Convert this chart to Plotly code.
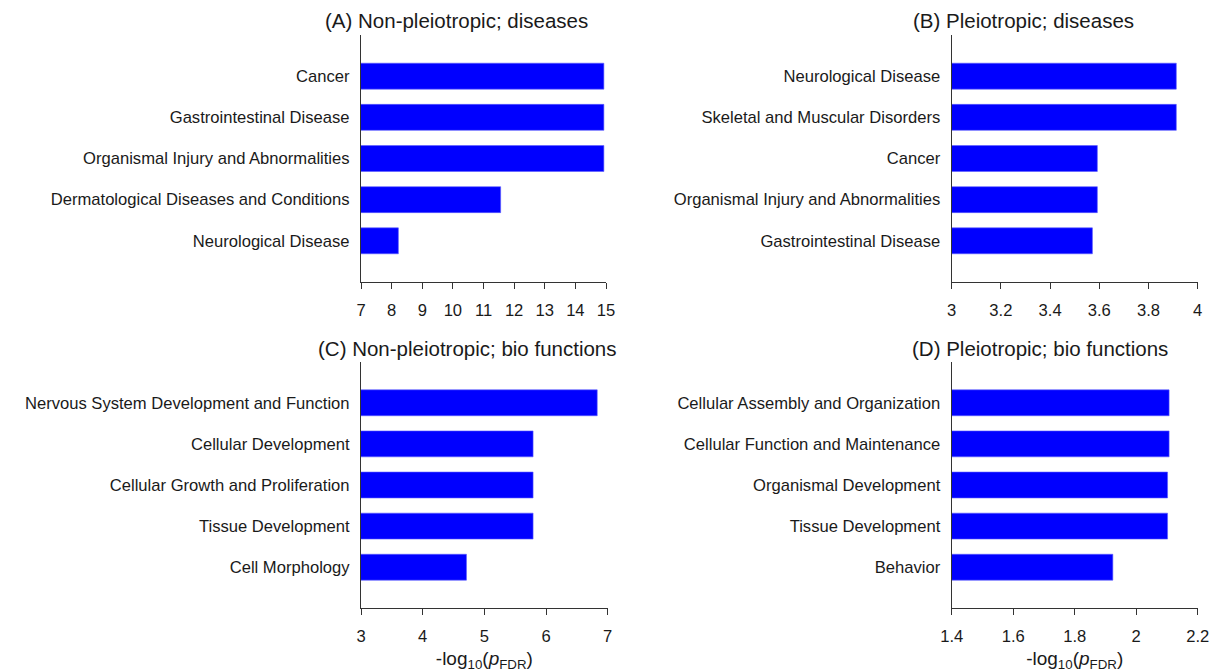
import plotly.graph_objects as go

# Panel data (top-to-bottom order)
cats_a = ["Cancer", "Gastrointestinal Disease", "Organismal Injury and Abnormalities",
          "Dermatological Diseases and Conditions", "Neurological Disease"]
vals_a = [14.93, 14.93, 14.93, 11.56, 8.22]

cats_b = ["Neurological Disease", "Skeletal and Muscular Disorders", "Cancer",
          "Organismal Injury and Abnormalities", "Gastrointestinal Disease"]
vals_b = [3.913, 3.913, 3.592, 3.592, 3.572]

cats_c = ["Nervous System Development and Function", "Cellular Development",
          "Cellular Growth and Proliferation", "Tissue Development", "Cell Morphology"]
vals_c = [6.83, 5.79, 5.79, 5.79, 4.71]

cats_d = ["Cellular Assembly and Organization", "Cellular Function and Maintenance",
          "Organismal Development", "Tissue Development", "Behavior"]
vals_d = [2.107, 2.107, 2.102, 2.102, 1.924]

titles = ["(A) Non-pleiotropic; diseases", "(B) Pleiotropic; diseases",
          "(C) Non-pleiotropic; bio functions", "(D) Pleiotropic; bio functions"]
xranges = [[7, 15], [3, 4], [3, 7], [1.4, 2.2]]
xdticks = [1, 0.2, 1, 0.2]

W, H = 1219, 672
def dx(a, b):
    return [a / W, b / W]
def dy(top, bot):
    return [1 - bot / H, 1 - top / H]

x_domains = [dx(361, 606), dx(951.7, 1197.7), dx(361, 607.7), dx(951.7, 1197.7)]
y_domains = [dy(35, 282), dy(35, 282), dy(361.7, 608.3), dy(361.7, 608.3)]
title_pos = [(456, 20), (1023, 20), (467.5, 348), (1039.5, 348)]

FONT = "Arial, 'Liberation Sans', Helvetica, sans-serif"
TXT = "#1a1a1a"
LBL = 16.6

fig = go.Figure()
all_cats = [cats_a, cats_b, cats_c, cats_d]
all_vals = [vals_a, vals_b, vals_c, vals_d]

layout = dict(
    width=W, height=H,
    margin=dict(l=0, r=0, t=0, b=0),
    paper_bgcolor="white", plot_bgcolor="white",
    showlegend=False,
    font=dict(family=FONT, color=TXT, size=LBL),
    annotations=[],
)

for i in range(4):
    xa = "x" if i == 0 else f"x{i+1}"
    ya = "y" if i == 0 else f"y{i+1}"
    fig.add_trace(go.Bar(
        x=all_vals[i], y=all_cats[i], orientation="h",
        marker=dict(color="#0000ff", line=dict(width=0.6, color="#5a5aff")),
        width=0.63,
        xaxis=xa, yaxis=ya, hoverinfo="x+y",
    ))
    xkey = "xaxis" if i == 0 else f"xaxis{i+1}"
    ykey = "yaxis" if i == 0 else f"yaxis{i+1}"
    xaxis = dict(
        domain=x_domains[i], anchor=ya, range=xranges[i], dtick=xdticks[i],
        tick0=xranges[i][0],
        showline=True, linecolor="#333333", linewidth=1.2,
        ticks="outside", ticklen=6, tickcolor="#333333", tickwidth=1.2,
        showgrid=False, zeroline=False, automargin=False,
        tickfont=dict(size=LBL, color=TXT, family=FONT),
        ticklabelstandoff=7,
        fixedrange=True,
    )
    if i >= 2:
        xaxis["title"] = dict(text="-log<sub>10</sub>(<i>p</i><sub>FDR</sub>)",
                              font=dict(size=19, color=TXT, family=FONT), standoff=8)
    yaxis = dict(
        domain=y_domains[i], anchor=xa, type="category",
        categoryorder="array", categoryarray=all_cats[i],
        range=[5, -1],
        showline=True, linecolor="#333333", linewidth=1.2,
        ticks="", showgrid=False, zeroline=False, automargin=False,
        tickfont=dict(size=LBL, color=TXT, family=FONT),
        ticklabelstandoff=7,
        fixedrange=True,
    )
    layout[xkey] = xaxis
    layout[ykey] = yaxis
    tx, ty = title_pos[i]
    layout["annotations"].append(dict(
        text=titles[i], x=tx / W, y=1 - ty / H, xref="paper", yref="paper",
        xanchor="center", yanchor="middle", showarrow=False,
        font=dict(size=20.5, color=TXT, family=FONT),
    ))

fig.update_layout(**layout)
fig.write_html(
    "out.html",
    config={"displayModeBar": False},
    post_script="document.body.style.margin='0';document.body.style.overflow='hidden';",
)
